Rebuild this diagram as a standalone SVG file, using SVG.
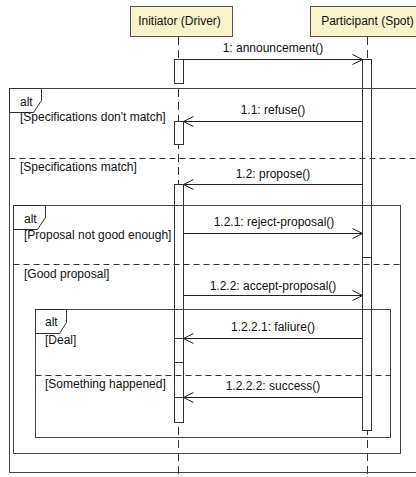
<svg xmlns="http://www.w3.org/2000/svg" width="416" height="477" viewBox="0 0 416 477">
<defs>
<style>
text{font-family:"Liberation Sans",Arial,sans-serif;font-size:12px;fill:#111}
.head{fill:#f8f3c8;stroke:#555;stroke-width:1}
.life{stroke:#333;stroke-width:1;stroke-dasharray:8,5;fill:none}
.act{fill:#fff;stroke:#333;stroke-width:1}
.frame{fill:none;stroke:#444;stroke-width:1}
.tab{fill:#fff;stroke:#333;stroke-width:1}
.sep{stroke:#333;stroke-width:1;stroke-dasharray:6,4;fill:none}
.msg{stroke:#222;stroke-width:1;fill:none}
.lbl{text-anchor:middle}
</style>
<marker id="open" viewBox="0 0 12 12" refX="11" refY="6" markerWidth="12" markerHeight="12" markerUnits="userSpaceOnUse" orient="auto">
<path d="M1,1 L11,6 L1,11" fill="none" stroke="#222" stroke-width="1"/>
</marker>
</defs>

<g id="initiator">
<rect class="head" x="130.5" y="6.5" width="102" height="30"/>
<text x="179.5" y="25" text-anchor="middle">Initiator (Driver)</text>
<line class="life" x1="178.5" y1="37" x2="178.5" y2="477"/>
<rect class="act" x="174.5" y="59.5" width="9" height="24"/>
<rect class="act" x="174.5" y="121.5" width="9" height="23"/>
<rect class="act" x="174.5" y="184.5" width="9" height="238"/>
<rect class="act" x="174.5" y="338.5" width="9" height="24"/>
<rect class="act" x="174.5" y="397.5" width="9" height="25"/>
</g>

<g id="participant">
<rect class="head" x="310.5" y="6.5" width="116" height="30"/>
<text x="367.5" y="25" text-anchor="middle">Participant (Spot)</text>
<line class="life" x1="367.5" y1="37" x2="367.5" y2="477"/>
<rect class="act" x="362.5" y="59.5" width="9" height="371"/>
<rect class="act" x="362.5" y="257.5" width="9" height="173"/>
</g>

<g id="alt-outer">
<rect class="frame" x="9.5" y="88.5" width="420" height="384"/>
<path class="tab" d="M9.5,88.5 H41.5 V100.5 L33.5,112.5 H9.5 Z"/>
<text x="20" y="106">alt</text>
<text x="20" y="121">[Specifications don't match]</text>
<line class="sep" x1="9.5" y1="158.5" x2="430" y2="158.5"/>
<text x="20" y="171">[Specifications match]</text>
</g>

<g id="alt-middle">
<rect class="frame" x="13.5" y="205.5" width="387" height="248"/>
<path class="tab" d="M13.5,205.5 H45.5 V217.5 L37.5,229.5 H13.5 Z"/>
<text x="24" y="223">alt</text>
<text x="24" y="239">[Proposal not good enough]</text>
<line class="sep" x1="13.5" y1="264.5" x2="400.5" y2="264.5"/>
<text x="24" y="278">[Good proposal]</text>
</g>

<g id="alt-inner">
<rect class="frame" x="35.5" y="309.5" width="355" height="128"/>
<path class="tab" d="M35.5,309.5 H66.5 V322.5 L59.5,333.5 H35.5 Z"/>
<text x="45" y="326">alt</text>
<text x="45" y="344">[Deal]</text>
<line class="sep" x1="35.5" y1="375.5" x2="390.5" y2="375.5"/>
<text x="45" y="388">[Something happened]</text>
</g>

<g id="connectors">
<line class="msg" x1="183.5" y1="59.5" x2="362.5" y2="59.5" marker-end="url(#open)"/>
<text class="lbl" x="273" y="52">1: announcement()</text>
<line class="msg" x1="362.5" y1="121.5" x2="183.5" y2="121.5" marker-end="url(#open)"/>
<text class="lbl" x="273" y="114">1.1: refuse()</text>
<line class="msg" x1="362.5" y1="184.5" x2="183.5" y2="184.5" marker-end="url(#open)"/>
<text class="lbl" x="273" y="178">1.2: propose()</text>
<line class="msg" x1="183.5" y1="233.5" x2="362.5" y2="233.5" marker-end="url(#open)"/>
<text class="lbl" x="274" y="226">1.2.1: reject-proposal()</text>
<line class="msg" x1="183.5" y1="295.5" x2="362.5" y2="295.5" marker-end="url(#open)"/>
<text class="lbl" x="273" y="290">1.2.2: accept-proposal()</text>
<line class="msg" x1="362.5" y1="338.5" x2="183.5" y2="338.5" marker-end="url(#open)"/>
<text class="lbl" x="273" y="331">1.2.2.1: faliure()</text>
<line class="msg" x1="362.5" y1="397.5" x2="183.5" y2="397.5" marker-end="url(#open)"/>
<text class="lbl" x="273" y="390">1.2.2.2: success()</text>
</g>
</svg>
